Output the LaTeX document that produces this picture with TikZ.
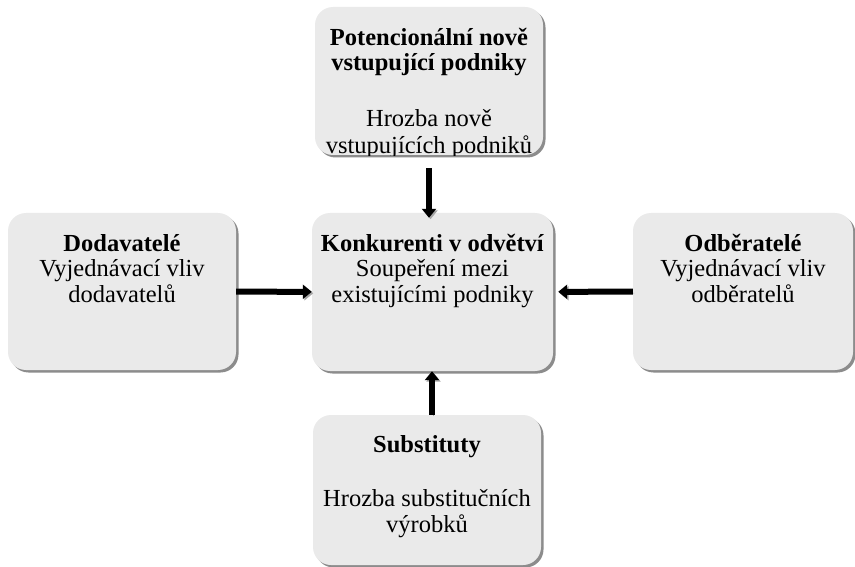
\documentclass[tikz,border=0pt]{standalone}
\usepackage{fontspec}
\setmainfont{Liberation Serif}
\usetikzlibrary{positioning,shadows,arrows.meta}

\definecolor{boxfill}{RGB}{234,234,234}
\definecolor{boxshadow}{RGB}{140,140,140}

\tikzset{txt/.style={align=center, inner sep=0pt, font=\fontsize{24.5}{25.5}\selectfont}}
\tikzset{arr/.style={line width=6pt, -{Triangle[width=14pt,length=9pt]}, preaction={draw=gray!70, transform canvas={xshift=1.5pt,yshift=-1.5pt}}}}

\begin{document}
\begin{tikzpicture}[x=1pt, y=-1pt, node distance=20pt,
    main/.style={fill=boxfill, rounded corners=18pt, inner sep=0pt,
        drop shadow={shadow xshift=2.5pt, shadow yshift=-2.5pt, fill=boxshadow, opacity=1}}]
    \useasboundingbox (0,0) rectangle (855,567);

    % boxes
    \node[main, minimum width=228pt, minimum height=148pt] (pot) at (429,81) {};
    \node[main, minimum width=228pt, minimum height=157pt] (dod) at (122,291.5) {};
    \node[main, minimum width=241pt, minimum height=158pt] (kon) at (432.5,292) {};
    \node[main, minimum width=220pt, minimum height=157pt] (odb) at (743,291.5) {};
    \node[main, minimum width=228pt, minimum height=150pt] (sub) at (427,490) {};

    % texts
    \begin{scope}
        \clip (pot.north west) rectangle (pot.south east);
        \node[txt, below=21pt of pot.north] (pottxt) {\textbf{Potencionální nově}\\\textbf{vstupující podniky}\\[30pt]Hrozba nově\\[1.5pt]vstupujících podniků};
    \end{scope}
    \node[txt, below=21pt of dod.north] (dodtxt) {\textbf{Dodavatelé}\\Vyjednávací vliv\\dodavatelů};
    \node[txt, below=21pt of kon.north] (kontxt) {\textbf{Konkurenti v odvětví}\\Soupeření mezi\\existujícími podniky};
    \node[txt, below=21pt of odb.north] (odbtxt) {\textbf{Odběratelé}\\Vyjednávací vliv\\odběratelů};
    \node[txt, below=20pt of sub.north] (subtxt) {\textbf{Substituty}\\[29pt]Hrozba substitučních\\výrobků};

    % arrows
    \draw[arr, shorten <=13pt, shorten >=-5pt] (pot.south) -- (pot.south |- kon.north);
    \draw[arr] (dod) -- (kon);
    \draw[arr, shorten >=5pt] (odb) -- (kon);
    \draw[arr] ([xshift=5pt]sub.north) -- ([xshift=5pt]sub.north |- kon.south);
\end{tikzpicture}
\end{document}
